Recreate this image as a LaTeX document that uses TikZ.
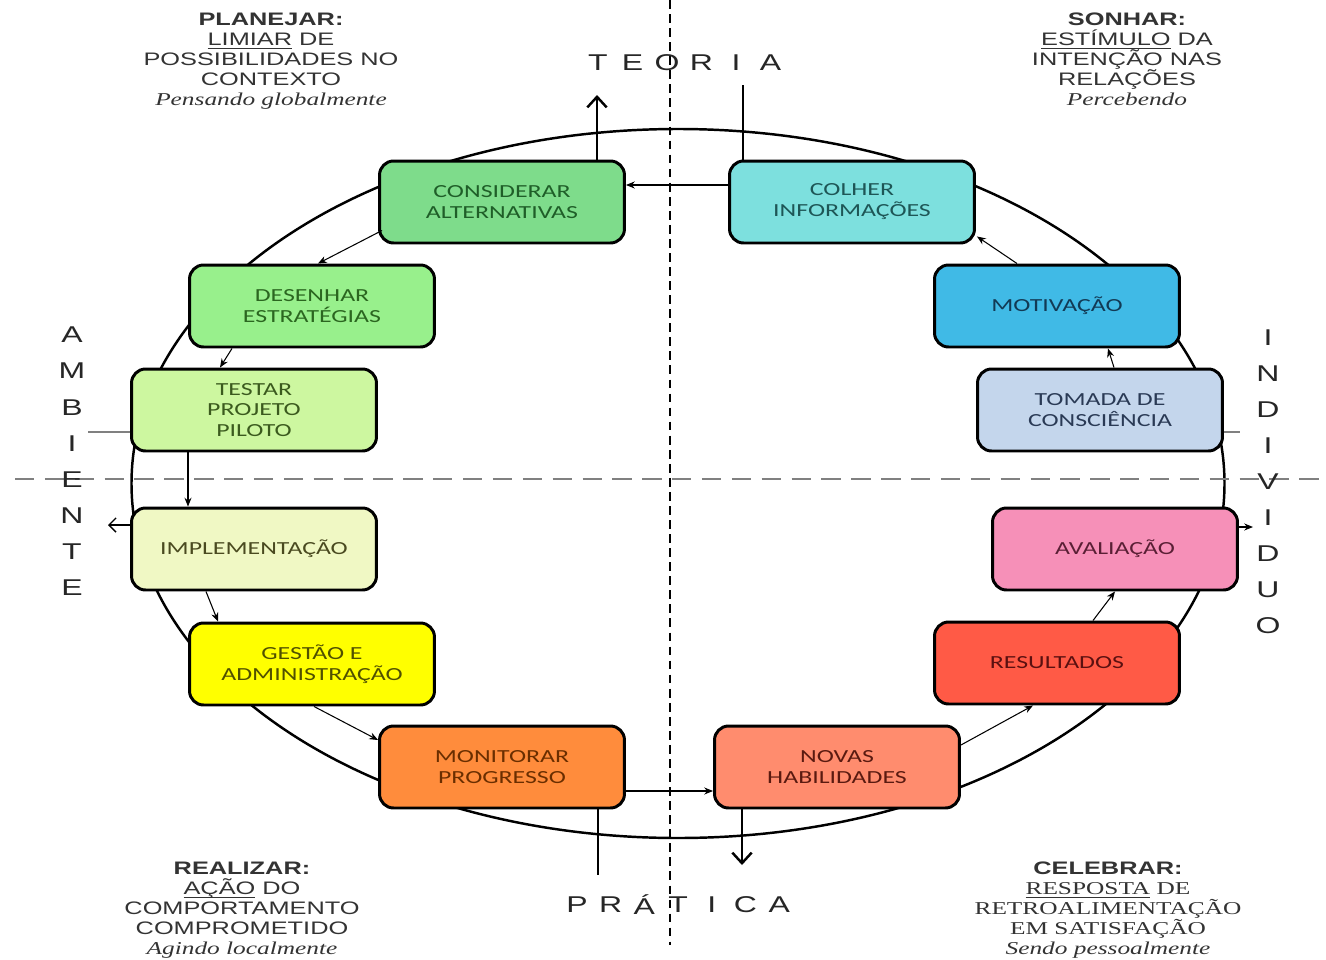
\documentclass[tikz,border=0pt]{standalone}
\usepackage{fontspec}
\usetikzlibrary{calc,arrows.meta}
\newfontfamily\boxfont[FakeStretch=1.4]{Carlito}
\newfontfamily\capfont[FakeStretch=1.4]{Liberation Sans}
\newfontfamily\serfont[FakeStretch=1.4]{Liberation Serif}
\newcommand{\keyword}[1]{\underline{\vphantom{A}\smash{#1}}}
\definecolor{considFill}{HTML}{7EDC8B}\definecolor{considText}{HTML}{1F5E28}
\definecolor{colherFill}{HTML}{7DE0DE}\definecolor{colherText}{HTML}{1E5656}
\definecolor{desenFill}{HTML}{98F08C}\definecolor{desenText}{HTML}{2B6620}
\definecolor{motivFill}{HTML}{40BAE6}\definecolor{motivText}{HTML}{123A55}
\definecolor{testarFill}{HTML}{CDF7A0}\definecolor{testarText}{HTML}{3B5A1E}
\definecolor{tomadaFill}{HTML}{C4D6EC}\definecolor{tomadaText}{HTML}{2A3A55}
\definecolor{implemFill}{HTML}{F0F8C4}\definecolor{implemText}{HTML}{4A4A20}
\definecolor{avaliaFill}{HTML}{F690B8}\definecolor{avaliaText}{HTML}{5A1F35}
\definecolor{gestaoFill}{HTML}{FFFF00}\definecolor{gestaoText}{HTML}{505000}
\definecolor{resultFill}{HTML}{FF5A46}\definecolor{resultText}{HTML}{5A1010}
\definecolor{monitFill}{HTML}{FF8C3C}\definecolor{monitText}{HTML}{6A2E00}
\definecolor{novasFill}{HTML}{FF8C6E}\definecolor{novasText}{HTML}{5A1A10}
\tikzset{
  stage/.style={draw=black, line width=1.7pt, rounded corners=8pt, minimum width=4.9cm,
    minimum height=1.64cm, align=center, font=\boxfont\fontsize{10.5}{11.9}\selectfont},
  flow/.style={-{Stealth[length=5pt,width=4pt]}, line width=0.6pt},
  axisline/.style={line width=1.4pt},
  axisarrow/.style={line width=1.4pt, -{Straight Barb[length=6pt,width=11pt,line width=1.4pt]}},
  axisletter/.style={font=\capfont\fontsize{13}{15}\selectfont, text=black!85, inner sep=0pt},
  corner/.style={align=center, font=\capfont\fontsize{10.3}{11.3}\selectfont, text=black!80, inner sep=0pt, anchor=north},
}
\begin{document}
\begin{tikzpicture}[x=0.02cm, y=-0.02cm]
\fill[white] (0,0) rectangle (1326,960);
\useasboundingbox (0,0) rectangle (1326,960);
\draw[line width=1.4pt] (678,483.5) ellipse [x radius=546.5, y radius=354.5];
\draw[gray, line width=1.7pt, dash pattern=on 11pt off 6pt] (15,479) -- (1326,479);
\draw[black, line width=1.3pt, dash pattern=on 5pt off 3pt] (670,0) -- (670,945);

\node[stage, fill=considFill, text=considText] (consid) at (502,202) {CONSIDERAR\\ALTERNATIVAS};
\node[stage, fill=colherFill, text=colherText] (colher) at (852,202) {COLHER\\INFORMAÇÕES};
\node[stage, fill=desenFill, text=desenText] (desen) at (312,306) {DESENHAR\\ESTRATÉGIAS};
\node[stage, fill=motivFill, text=motivText] (motiv) at (1057,306) {MOTIVAÇÃO};
\node[stage, fill=testarFill, text=testarText] (testar) at (254,410) {TESTAR\\PROJETO\\PILOTO};
\node[stage, fill=tomadaFill, text=tomadaText] (tomada) at (1100,410) {TOMADA DE\\CONSCIÊNCIA};
\node[stage, fill=implemFill, text=implemText] (implem) at (254,549) {IMPLEMENTAÇÃO};
\node[stage, fill=avaliaFill, text=avaliaText] (avalia) at (1115,549) {AVALIAÇÃO};
\node[stage, fill=gestaoFill, text=gestaoText] (gestao) at (312,664) {GESTÃO E\\ADMINISTRAÇÃO};
\node[stage, fill=resultFill, text=resultText] (result) at (1057,663) {RESULTADOS};
\node[stage, fill=monitFill, text=monitText] (monit) at (502,767) {MONITORAR\\PROGRESSO};
\node[stage, fill=novasFill, text=novasText] (novas) at (837,767) {NOVAS\\HABILIDADES};

\draw[flow] ($(colher.west)+(0,-17)$) -- ($(consid.east)+(0,-17)$);
\draw[flow] ($(consid.south west)+(4,-14)$) -- ($(desen.north)+(6,0)$);
\draw[flow] ($(desen.south)+(-80,0)$) -- ($(testar.north)+(-34,0)$);
\draw[flow] ($(testar.south)+(-66,0)$) -- ($(implem.north)+(-66,0)$);
\draw[flow] ($(implem.south)+(-48,0)$) -- ($(gestao.north)+(-94,0)$);
\draw[flow] ($(gestao.south)+(2,0)$) -- ($(monit.west)+(0,-27)$);
\draw[flow] ($(monit.east)+(0,24)$) -- ($(novas.west)+(0,24)$);
\draw[flow] ($(novas.east)+(0,-22)$) -- ($(result.south)+(-24,0)$);
\draw[flow] ($(result.north)+(36,0)$) -- (avalia.south);
\draw[flow] ($(tomada.north)+(14,0)$) -- ($(motiv.south)+(51,0)$);
\draw[flow] ($(motiv.north)+(-40,0)$) -- ($(colher.south east)+(1,-8)$);

\coordinate (teoUp) at (597,95);
\coordinate (teoIn) at (743,85);
\coordinate (praOut) at (598,875);
\coordinate (praDown) at (742,865);
\coordinate (ambIn) at (88,432);
\coordinate (ambOut) at (108,525);
\coordinate (indIn) at (1240,432);
\coordinate (indOut) at (1253,527);
\draw[axisarrow] (consid.north -| teoUp) -- (teoUp);
\draw[axisline] (colher.north -| teoIn) -- (teoIn);
\draw[axisline] (monit.south -| praOut) -- (praOut);
\draw[axisarrow] (novas.south -| praDown) -- (praDown);
\draw[gray, line width=1.2pt] (testar.west |- ambIn) -- (ambIn);
\draw[line width=0.8pt, -{Straight Barb[length=4pt,width=8pt,line width=0.8pt]}] (implem.west |- ambOut) -- (ambOut);
\draw[gray, line width=1.2pt] (tomada.east |- indIn) -- (indIn);
\draw[flow] (avalia.east |- indOut) -- (indOut);

\foreach \ch [count=\i from 0] in {T,E,O,R,I,A}
  \node[axisletter] (teo\i) at ({598+34.5*\i},63) {\ch};
\foreach \ch [count=\i from 0] in {P,R,Á,T,I,C,A}
  \node[axisletter] (pra\i) at ({577+33.7*\i},905) {\ch};
\foreach \ch [count=\i from 0] in {A,M,B,I,E,N,T,E}
  \node[axisletter] (amb\i) at (72,{335+36.1*\i}) {\ch};
\foreach \ch [count=\i from 0] in {I,N,D,I,V,I,D,U,O}
  \node[axisletter] (ind\i) at (1268,{338+36*\i}) {\ch};

\node[corner] (planejar) at (271,13) {\textbf{PLANEJAR:}\\\keyword{LIMIAR} DE\\POSSIBILIDADES NO\\CONTEXTO\\{\serfont\itshape Pensando globalmente}};
\node[corner] (sonhar) at (1127,13) {\textbf{SONHAR:}\\\keyword{ESTÍMULO} DA\\INTENÇÃO NAS\\RELAÇÕES\\{\serfont\itshape Percebendo}};
\node[corner] (realizar) at (242,862) {\textbf{REALIZAR:}\\\keyword{AÇÃO} DO\\COMPORTAMENTO\\COMPROMETIDO\\{\serfont\itshape Agindo localmente}};
\node[corner] (celebrar) at (1108,862) {\textbf{CELEBRAR:}\\{\serfont\keyword{RESPOSTA} DE}\\{\serfont RETROALIMENTAÇÃO}\\{\serfont EM SATISFAÇÃO}\\{\serfont\itshape Sendo pessoalmente}};
\end{tikzpicture}
\end{document}
